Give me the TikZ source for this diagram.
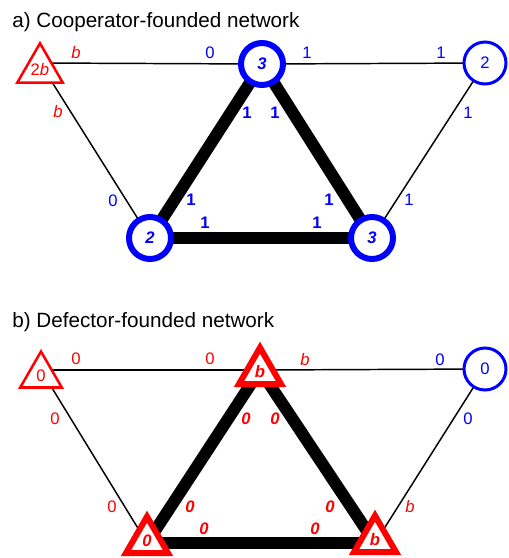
\documentclass[tikz,border=0pt]{standalone}
\usepackage{fontspec}
\setmainfont{Liberation Sans}
\usetikzlibrary{shapes.geometric}
\definecolor{cblue}{RGB}{0,0,255}
\definecolor{dred}{RGB}{255,0,0}
\begin{document}
\begin{tikzpicture}[x=0.75pt,y=-0.75pt,
  thinedge/.style={line width=1.1pt},
  thickedge/.style={line width=9pt},
  labfont/.style={font=\fontsize{12.5}{13}\selectfont},
  coopthin/.style={circle,draw=cblue,line width=2.25pt,fill=white,minimum size=31.5pt,inner sep=0pt,text=cblue,labfont},
  coopthick/.style={coopthin,line width=4.5pt,font=\fontsize{12.5}{13}\selectfont\bfseries\itshape},
  defthin/.style={regular polygon,regular polygon sides=3,draw=dred,line width=1.9pt,fill=white,minimum size=36pt,inner sep=0pt,text=dred,labfont},
  defthick/.style={defthin,line width=4.5pt,minimum size=36.5pt,font=\fontsize{12.5}{13}\selectfont\bfseries\itshape},
  lab/.style={inner sep=0pt,labfont},
  blab/.style={lab,text=cblue},
  rlab/.style={lab,text=dred},
  bblab/.style={lab,text=cblue,font=\fontsize{12.5}{13}\selectfont\bfseries},
  brlab/.style={lab,text=dred,font=\fontsize{12.5}{13}\selectfont\bfseries\itshape},
  title/.style={inner sep=0pt,anchor=base west,font=\fontsize{15.5}{17}\selectfont}
]
\useasboundingbox (0,0) rectangle (508,558);

% ---------------- panel a ----------------
\node[title] (ta) at (12,27) {a) Cooperator-founded network};
\coordinate (aA) at (40,63);
\coordinate (aT) at (262,64);
\coordinate (aR) at (485,63);
\coordinate (aL) at (150,238);
\coordinate (aM) at (372,238);

\draw[thinedge] (aA) -- (aT);
\draw[thinedge] (aT) -- (aR);
\draw[thinedge] (aA) -- (aL);
\draw[thinedge] (aR) -- (aM);
\draw[thickedge] (aT) -- (aL);
\draw[thickedge] (aT) -- (aM);
\draw[thickedge] (aL) -- (aM);

\node[defthin] (nA) at (40,69.5) {2\textit{b}};
\node[coopthick] (nT) at (aT) {3};
\node[coopthin] (nR) at (aR) {2};
\node[coopthick] (nL) at (aL) {2};
\node[coopthick] (nM) at (aM) {3};

\node[rlab] (la1) at (76,53) {\textit{b}};
\node[blab] (la2) at (210,53) {0};
\node[blab] (la3) at (307,53) {1};
\node[blab] (la4) at (441,53) {1};
\node[rlab] (la5) at (58,112) {\textit{b}};
\node[blab] (la6) at (113,201) {0};
\node[blab] (la7) at (468,113) {1};
\node[blab] (la8) at (409,200) {1};
\node[bblab] (la9) at (247,113) {1};
\node[bblab] (la10) at (275,113) {1};
\node[bblab] (la11) at (191,200) {1};
\node[bblab] (la12) at (205,223) {1};
\node[bblab] (la13) at (329,200) {1};
\node[bblab] (la14) at (317,223) {1};

% ---------------- panel b ----------------
\node[title] (tb) at (12,327) {b) Defector-founded network};
\coordinate (bA) at (41,370);
\coordinate (bT) at (260,370);
\coordinate (bR) at (485,369);
\coordinate (bL) at (147,543);
\coordinate (bM) at (375,543);

\draw[thinedge] (bA) -- (bT);
\draw[thinedge] (bT) -- (bR);
\draw[thinedge] (bA) -- (bL);
\draw[thinedge] (bR) -- (bM);
\draw[thickedge] (bT) -- (bL);
\draw[thickedge] (bT) -- (bM);
\draw[thickedge] (bL) -- (bM);

\node[defthin] (mA) at (41,375.5) {0};
\node[defthick] (mT) at (260,372) {b};
\node[coopthin] (mR) at (bR) {0};
\node[defthick] (mL) at (147,541) {0};
\node[defthick] (mM) at (375,540) {b};

\node[rlab] (lb1) at (76,359) {0};
\node[rlab] (lb2) at (210,359) {0};
\node[rlab] (lb3) at (305,360) {\textit{b}};
\node[blab] (lb4) at (440,360) {0};
\node[rlab] (lb5) at (55,419) {0};
\node[rlab] (lb6) at (112,507) {0};
\node[blab] (lb7) at (468,419) {0};
\node[rlab] (lb8) at (410,507) {\textit{b}};
\node[brlab] (lb9) at (246,419) {0};
\node[brlab] (lb10) at (275,419) {0};
\node[brlab] (lb11) at (190,507) {0};
\node[brlab] (lb12) at (204,529) {0};
\node[brlab] (lb13) at (330,507) {0};
\node[brlab] (lb14) at (315,529) {0};
\end{tikzpicture}
\end{document}
